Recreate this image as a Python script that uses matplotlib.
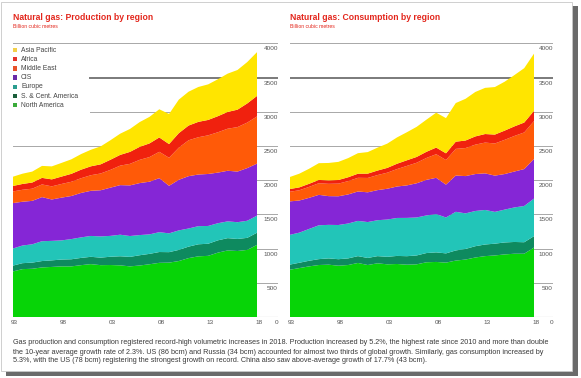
import matplotlib
matplotlib.use("Agg")
import matplotlib.pyplot as plt
from matplotlib.patches import Rectangle

plt.rcParams['font.family'] = ['Liberation Sans', 'DejaVu Sans']

years = list(range(1993, 2019))
regions = ["North America", "S. & Cent. America", "Europe", "CIS",
           "Middle East", "Africa", "Asia Pacific"]

# Production, billion cubic metres
prod_north_america = [665, 700, 705, 725, 732, 740, 740, 758, 773, 758, 760, 755, 740,
                      753, 771, 792, 795, 818, 861, 887, 894, 941, 973, 965, 981, 1054]
prod_sc_america = [85, 87, 90, 93, 96, 100, 104, 106, 107, 110, 121, 133, 139,
                   150, 152, 158, 153, 163, 168, 176, 177, 180, 180, 176, 176, 178]
prod_europe = [250, 258, 268, 290, 285, 280, 295, 300, 305, 310, 305, 315, 305,
               295, 285, 290, 275, 285, 265, 265, 260, 250, 245, 245, 250, 250]
prod_cis = [665, 640, 635, 645, 605, 625, 630, 650, 660, 675, 705, 725, 740,
            760, 770, 790, 695, 740, 765, 755, 760, 740, 740, 740, 770, 760]
prod_middle_east = [170, 175, 178, 185, 192, 200, 208, 215, 228, 245, 260, 285, 315,
                    340, 360, 385, 410, 470, 525, 545, 565, 590, 615, 650, 665, 690]
prod_africa = [80, 85, 90, 96, 102, 108, 116, 125, 130, 134, 148, 157, 175,
               190, 200, 210, 200, 212, 215, 225, 225, 235, 245, 255, 280, 300]
prod_asia_pacific = [135, 150, 160, 175, 190, 200, 212, 228, 242, 262, 285, 310, 335,
                     362, 388, 412, 440, 490, 495, 510, 520, 540, 560, 580, 605, 640]

# Consumption, billion cubic metres
cons_north_america = [690, 715, 740, 760, 765, 750, 760, 790, 760, 785, 770, 775, 765,
                      770, 800, 805, 795, 825, 840, 870, 890, 900, 915, 925, 925, 1015]
cons_sc_america = [75, 78, 82, 86, 92, 95, 97, 100, 103, 105, 110, 118, 124,
                   130, 135, 140, 135, 148, 155, 165, 170, 172, 175, 172, 168, 167]
cons_europe = [435, 440, 465, 495, 490, 500, 510, 515, 525, 525, 545, 555, 560,
               555, 550, 560, 525, 565, 520, 515, 505, 465, 480, 505, 530, 549]
cons_cis = [490, 470, 455, 445, 420, 420, 425, 430, 435, 440, 450, 460, 475,
            500, 520, 530, 480, 530, 545, 540, 535, 530, 520, 525, 540, 580]
cons_middle_east = [140, 150, 160, 170, 180, 185, 195, 200, 210, 220, 235, 255, 285,
                    300, 320, 345, 360, 390, 410, 430, 450, 470, 500, 520, 535, 553]
cons_africa = [40, 42, 45, 48, 50, 53, 56, 60, 63, 66, 70, 78, 82,
               85, 90, 97, 98, 105, 110, 120, 125, 130, 135, 140, 145, 150]
cons_asia_pacific = [175, 200, 220, 245, 255, 265, 280, 300, 315, 335, 355, 385, 410,
                     440, 470, 510, 515, 565, 610, 650, 675, 695, 715, 750, 795, 836]

x_tick_years = [1993, 1998, 2003, 2008, 2013, 2018]
x_tick_labels = ["93", "98", "03", "08", "13", "18"]
y_ticks = [0, 500, 1000, 1500, 2000, 2500, 3000, 3500, 4000]

fill_colors = ["#07d407", "#0e8a5f", "#22c5b8", "#8526d6", "#ff5a08", "#f0210e", "#ffe500"]
legend_colors = ["#3aab3a", "#1a5e3a", "#2a9d8f", "#6a2aa8", "#e8512a", "#e5322a", "#f3d04a"]

W, H = 581, 378
fig = plt.figure(figsize=(W / 100, H / 100), dpi=100)
fig.patch.set_facecolor("white")

# page frame with shadow
fig.add_artist(Rectangle((6 / W, 1 - 376 / H), 572 / W, 370 / H, transform=fig.transFigure,
                         facecolor="#6a6a6a", edgecolor="none", zorder=-3))
fig.add_artist(Rectangle((1 / W, 1 - 371 / H), 571 / W, 369 / H, transform=fig.transFigure,
                         facecolor="white", edgecolor="#c8c8c8", linewidth=0.6, zorder=-2))

RED = "#e3261c"


def panel(left_px, right_px, end_px, series, title, legend=False):
    bottom_px, top_px = 317, 43.4
    ax = fig.add_axes([left_px / W, 1 - bottom_px / H, (right_px - left_px) / W,
                       (bottom_px - top_px) / H])
    ppy = (end_px - left_px) / 25.0
    xmax = 1993 + (right_px - left_px) / ppy
    ax.set_xlim(1993, xmax)
    ax.set_ylim(0, 4000)
    ax.axis("off")
    for v in y_ticks:
        if v == 3500:
            c, lw = "#7a7a7a", 1.4
        elif v == 0:
            c, lw = "#9a9a9a", 0.8
        else:
            c, lw = "#a8a8a8", 0.7
        xmin = 0
        if legend and v in (3500, 3000):
            xmin = (90 - left_px) / (right_px - left_px)
        ax.axhline(v, xmin=xmin, xmax=1, color=c, lw=lw, zorder=0)
        ax.text(xmax, v - 45, str(v), ha="right", va="top", fontsize=4.6,
                color="#555555", zorder=5)
    ax.stackplot(years, *series, colors=fill_colors, linewidth=0, zorder=2)
    for yr, lab in zip(x_tick_years, x_tick_labels):
        ax.text(yr + 0.2, -45, lab, ha="center", va="top", fontsize=4.6, color="#555555")
    fig.text(left_px / W, 1 - 17 / H, title, ha="left", va="center", fontsize=6.2,
             fontweight="bold", color=RED)
    fig.text(left_px / W, 1 - 26 / H, "Billion cubic metres", ha="left", va="center",
             fontsize=3.7, color=RED)
    return ax


panel(12.7, 278, 257,
      [prod_north_america, prod_sc_america, prod_europe, prod_cis,
       prod_middle_east, prod_africa, prod_asia_pacific],
      "Natural gas: Production by region", legend=True)
panel(289.5, 553, 534,
      [cons_north_america, cons_sc_america, cons_europe, cons_cis,
       cons_middle_east, cons_africa, cons_asia_pacific],
      "Natural gas: Consumption by region")

# legend (top to bottom: Asia Pacific ... North America)
rows_y = [50, 59.2, 68.4, 77.6, 86.8, 96, 105.2]
for i, (name, col) in enumerate(zip(regions[::-1], legend_colors[::-1])):
    y = rows_y[i]
    fig.add_artist(Rectangle((13 / W, 1 - (y + 2.2) / H), 4.4 / W, 4.4 / H,
                             transform=fig.transFigure, facecolor=col, edgecolor="none"))
    fig.text(21 / W, 1 - y / H, name, ha="left", va="center", fontsize=4.9, color="#444444")

caption = [
    "Gas production and consumption registered record-high volumetric increases in 2018. Production increased by 5.2%, the highest rate since 2010 and more than double",
    "the 10-year average growth rate of 2.3%. US (86 bcm) and Russia (34 bcm) accounted for almost two thirds of global growth. Similarly, gas consumption increased by",
    "5.3%, with the US (78 bcm) registering the strongest growth on record. China also saw above-average growth of 17.7% (43 bcm).",
]
for i, line in enumerate(caption):
    fig.text(13 / W, 1 - (343 + 9 * i) / H, line, ha="left", va="center", fontsize=5.2,
             color="#3a3a3a")

fig.savefig("out.png", dpi=100, facecolor="white")
